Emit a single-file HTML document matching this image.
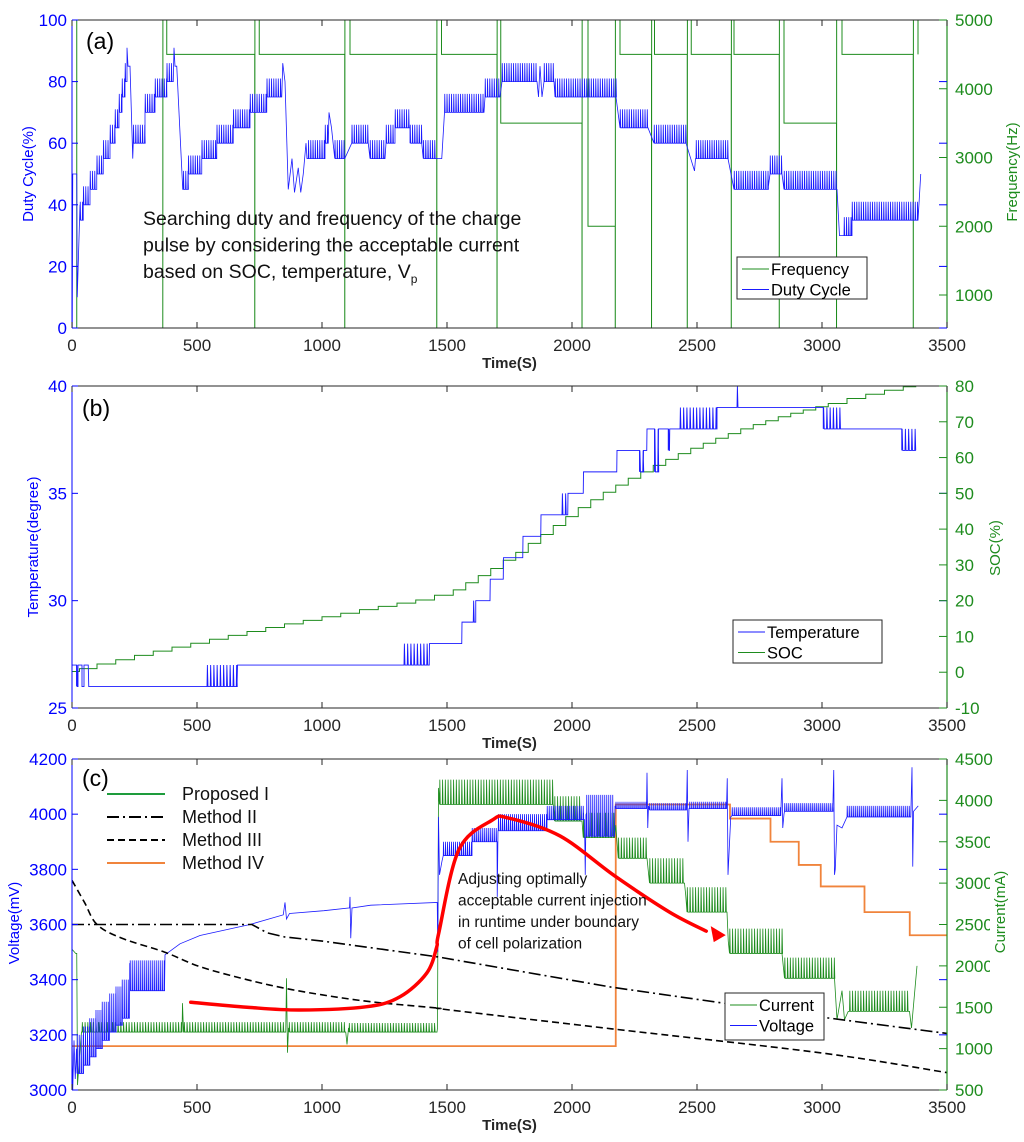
<!DOCTYPE html>
<html><head><meta charset="utf-8"><style>
body{margin:0;background:#fff}
svg{display:block;font-family:"Liberation Sans",Arial,sans-serif}
</style></head><body>
<svg id="fig" width="1024" height="1142" viewBox="0 0 1024 1142" xmlns="http://www.w3.org/2000/svg">
<defs>
<clipPath id="clipA"><rect x="72" y="20" width="875" height="308"/></clipPath>
<clipPath id="clipB"><rect x="72" y="386" width="875" height="322"/></clipPath>
<clipPath id="clipC"><rect x="72" y="759" width="875" height="331"/></clipPath>
</defs>
<g id="layer"></g>
</svg>
<script>
// ---------- Panel (a) data ----------
const dutyKnotT = [0,1,3,19,21,32,220,224,232,243,408,412,419,443,843,852,865,880,890,905,915,925,936,940,1028,1038,1479,1866,1872,1880,2490,2494,3060,3070,3395];
const dutyKnotV = [100,0,50,50,10,40,91,85,85,55,91,85,85,45,86,80,45,55,44,52,44,50,60,55,70,65,55,75,85,75,51,55,45,30,50];
const dutyBandT0 = [32,45,72,99,125,152,172,188,200,212,245,292,332,379,445,465,519,579,645,712,779,945,1012,1051,1119,1192,1256,1292,1352,1405,1490,1652,1720,1888,1932,2192,2328,2496,2648,2792,2848,3088,3120];
const dutyBandT1 = [45,72,99,125,152,172,188,200,212,220,292,332,379,405,465,519,579,645,712,779,839,1012,1025,1091,1185,1252,1292,1352,1399,1452,1648,1712,1860,1928,2176,2304,2456,2624,2784,2840,3056,3120,3384];
const dutyBandLo = [35,40,45,50,55,60,65,70,75,80,60,70,75,80,45,50,55,60,65,70,75,55,60,55,60,55,60,65,60,55,70,75,80,80,75,65,60,55,45,50,45,30,35];
const dutyBandHi = [41,46,51,56,61,66,71,76,81,86,66,76,81,86,51,56,61,66,71,76,81,61,66,61,66,61,66,71,66,61,76,81,86,86,81,71,66,61,51,56,51,36,41];
const freqT = [19,19,363,363,364,379,379,731,731,732,749,749,1091,1091,1092,1112,1112,1459,1459,1460,1478,1478,1700,1700,1701,1715,1715,2040,2040,2041,2064,2064,2173,2173,2174,2192,2192,2318,2318,2319,2330,2330,2461,2461,2462,2477,2477,2637,2637,2638,2648,2648,2829,2829,2830,2848,2848,3058,3058,3059,3080,3080,3365,3365,3366,3384,3384];
const freqV = [9000,500,500,-1000,9000,9000,4500,4500,-1000,9000,9000,4500,4500,-1000,9000,9000,4500,4500,-1000,9000,9000,4500,4500,-1000,9000,9000,3500,3500,-1000,9000,9000,2000,2000,-1000,9000,9000,4500,4500,-1000,9000,9000,4500,4500,-1000,9000,9000,4500,4500,-1000,9000,9000,4500,4500,-1000,9000,9000,3500,3500,-1000,9000,9000,4500,4500,-1000,9000,9000,4500];

// ---------- Panel (b) data ----------
const tempT0 = [0,18,24,40,48,67,540,662,1328,1430,1560,1605,1615,1673,1726,1804,1876,1960,1984,2046,2180,2270,2286,2300,2330,2346,2385,2391,2432,2580,2660,2668,3005,3072,3319];
const tempT1 = [18,24,40,48,65,540,660,1328,1429,1559,1605,1615,1672,1725,1803,1875,1960,1983,2045,2179,2270,2285,2299,2330,2345,2385,2390,2432,2580,2660,2668,3005,3072,3319,3376];
const tempLo = [27,26,27,26,27,26,26,27,27,28,29,29,30,31,32,33,34,34,35,36,37,36,37,38,36,38,37,38,38,39,39,39,38,38,37];
const tempHi = [27,27,27,26,27,26,27,27,28,28,29,30,30,31,32,33,34,35,35,36,37,37,37,38,38,38,38,38,39,39,40,39,39,38,38];
const socT = [0,30,100,175,250,325,400,475,550,625,700,775,850,925,1000,1075,1150,1225,1300,1375,1450,1525,1575,1625,1675,1725,1775,1825,1875,1925,1975,2025,2075,2125,2175,2225,2275,2325,2375,2425,2475,2525,2575,2625,2675,2725,2775,2825,2875,2925,2975,3025,3100,3175,3250,3325,3375];
const socV = [0.2,1,2.3,3.5,4.7,5.9,7,8.1,9.2,10.3,11.4,12.5,13.5,14.5,15.5,16.5,17.5,18.4,19.3,20.2,21.5,23,25,27,29,31.3,33.5,36,38.5,41,43.5,46,48.2,50.3,52.3,54.2,56,57.8,59.5,61.1,62.6,64,65.4,66.7,68,69.2,70.3,71.4,72.4,73.3,74.2,75.1,76.5,77.7,78.8,79.8,80];

// ---------- Panel (c) data ----------
const voltKnotT = [0,3,8,13,18,231,372,432,512,712,845,852,858,870,1008,1110,1112,1115,1120,1195,1461,1463,1466,1470,1480,1701,1704,2053,2056,2172,2300,2303,2306,2461,2464,2468,2621,2624,2635,2840,2843,2848,3047,3050,3053,3060,3080,3360,3363,3366,3385];
const voltKnotV = [3200,3000,3180,3040,3150,3460,3490,3530,3560,3600,3635,3680,3620,3640,3650,3660,3700,3550,3660,3670,3680,3500,3990,3780,3830,3700,3940,3780,4000,4030,4150,3950,4030,4160,3900,4020,4130,3780,3990,4130,3950,4000,4160,3780,3800,3960,3950,4170,3810,4010,4030];
const voltBandT0 = [20,45,70,95,120,150,175,200,232,1485,1600,1705,1900,2058,2175,2310,2470,2640,2850,3100];
const voltBandT1 = [45,70,95,120,150,175,200,230,370,1600,1700,1900,2050,2170,2298,2458,2618,2835,3043,3355];
const voltBandHi = [3200,3230,3260,3290,3320,3350,3375,3400,3470,3900,3950,4000,4030,4070,4045,4040,4045,4025,4040,4030];
const voltBandLo = [3060,3090,3120,3150,3180,3210,3235,3260,3360,3850,3900,3940,3980,3920,4020,4015,4020,3995,4010,3990];
const curKnotT = [0,15,19,22,30,38,442,446,858,862,866,1100,1106,1462,1466,2175,2305,2455,2625,3060,3080,3090,3105,3358,3380];
const curKnotV = [2200,2150,2150,560,900,1200,1550,1200,1850,950,1250,1050,1250,1250,4150,3700,3150,2850,2300,1350,1700,1350,1450,1250,2000];
const curBandT0 = [40,448,868,1108,1470,1930,2045,2185,2310,2460,2630,2850,3110];
const curBandT1 = [440,855,1095,1460,1925,2040,2170,2300,2450,2620,2840,3050,3350];
const curBandLo = [1200,1200,1200,1200,3950,3750,3550,3300,3000,2650,2150,1850,1450];
const curBandHi = [1320,1320,1320,1310,4250,4050,3850,3550,3300,2950,2450,2100,1700];
const m2T = [0,720,780,850,1000,1460,2157,3000,3500];
const m2V = [3600,3600,3570,3555,3540,3483,3373,3264,3205];
const m3T = [0,50,100,200,370,512,700,845,1000,1195,1461,1512,2157,3000,3500];
const m3V = [3760,3680,3600,3550,3500,3447,3400,3370,3345,3320,3297,3290,3222,3134,3063];
const m4T = [0,2175,2632,2794,2907,2995,3170,3351];
const m4I = [1030,3950,3780,3500,3220,2960,2650,2370];
const arrowT = [475,700,912,1179,1312,1419,1459,1467,1547,1680,1746,1952,2171,2390,2537,2603];
const arrowV = [3318,3300,3290,3302,3338,3424,3519,3569,3870,3978,3986,3921,3776,3645,3576,3565];

const xTicks = [0,500,1000,1500,2000,2500,3000,3500];

// ---------- helpers ----------
const NS = 'http://www.w3.org/2000/svg';
const layer = document.getElementById('layer');
const X0 = 72, X1 = 947, TMAX = 3500;
const xS = t => X0 + t * (X1 - X0) / TMAX;
function lin(d0, d1, r0, r1){ return v => r0 + (v - d0) * (r1 - r0) / (d1 - d0); }
function el(tag, attrs, parent){
  const e = document.createElementNS(NS, tag);
  for (const k in attrs) e.setAttribute(k, attrs[k]);
  (parent || layer).appendChild(e);
  return e;
}
function txt(s, x, y, size, fill, anchor, extra, parent){
  const e = el('text', Object.assign({x:x, y:y, 'font-size':size, fill:fill, 'text-anchor':anchor||'start'}, extra||{}), parent);
  e.textContent = s;
  return e;
}
function pathFrom(pts, ys){ return pts.map((p,i)=>(i?'L':'M')+xS(p[0]).toFixed(2)+' '+ys(p[1]).toFixed(2)).join(''); }
function smoothFrom(pts, ys){
  const P = pts.map(p=>[xS(p[0]), ys(p[1])]);
  let d = 'M'+P[0][0].toFixed(2)+' '+P[0][1].toFixed(2);
  for (let i = 0; i < P.length-1; i++){
    const p0 = P[Math.max(0,i-1)], p1 = P[i], p2 = P[i+1], p3 = P[Math.min(P.length-1,i+2)];
    const c1 = [p1[0]+(p2[0]-p0[0])/6, p1[1]+(p2[1]-p0[1])/6];
    const c2 = [p2[0]-(p3[0]-p1[0])/6, p2[1]-(p3[1]-p1[1])/6];
    d += 'C'+c1[0].toFixed(2)+' '+c1[1].toFixed(2)+' '+c2[0].toFixed(2)+' '+c2[1].toFixed(2)+' '+p2[0].toFixed(2)+' '+p2[1].toFixed(2);
  }
  return d;
}
function saw(t0, t1, lo, hi, P, out){
  for (let t = t0; t < t1; t += P){ out.push([t, lo]); out.push([t + P*0.12, hi]); out.push([t + P*0.3, lo]); }
  out.push([t1, lo]);
}
function mergedPoints(kT, kV, bT0, bT1, bLo, bHi, P){
  const items = [];
  kT.forEach((t,i)=>items.push({t:t, k:true, v:kV[i]}));
  bT0.forEach((t,i)=>items.push({t:t, k:false, i:i}));
  items.sort((a,b)=>a.t-b.t);
  const pts = [];
  items.forEach(it=>{
    if (it.k) pts.push([it.t, it.v]);
    else saw(bT0[it.i], bT1[it.i], bLo[it.i], bHi[it.i], P, pts);
  });
  return pts;
}
function frame(name, y0, y1, leftColor, rightColor, leftTicks, lY, rightTicks, rY){
  const g = el('g', {});
  
  
  el('line', {x1:X0, y1:y0, x2:X1, y2:y0, stroke:'#262626', 'stroke-width':1}, g);
  el('line', {x1:X0, y1:y1, x2:X1, y2:y1, stroke:'#262626', 'stroke-width':1}, g);
  el('line', {x1:X0, y1:y0, x2:X0, y2:y1, stroke:leftColor, 'stroke-width':1}, g);
  el('line', {x1:X1, y1:y0, x2:X1, y2:y1, stroke:rightColor, 'stroke-width':1.2}, g);
  xTicks.forEach(t=>{
    const x = xS(t);
    el('line', {x1:x, y1:y1, x2:x, y2:y1-6, stroke:'#262626'}, g);
    el('line', {x1:x, y1:y0, x2:x, y2:y0+6, stroke:'#262626'}, g);
    const lab = txt(String(t), x, y1+23, 17, '#262626', 'middle', {}, g);
    
    
  });
  leftTicks.forEach(v=>{
    const y = lY(v);
    el('line', {x1:X0, y1:y, x2:X0+6, y2:y, stroke:leftColor}, g);
    el('line', {x1:X1, y1:y, x2:X1-8, y2:y, stroke:leftColor}, g);
    const lab = txt(String(v), X0-5, y+6, 17, leftColor, 'end', {}, g);
    
    
  });
  rightTicks.forEach(v=>{
    const y = rY(v);
    el('line', {x1:X1, y1:y, x2:X1-8, y2:y, stroke:rightColor}, g);
    const lab = txt(String(v), X1+8, y+6, 17, rightColor, 'start', {}, g);
    
    
  });
  const tl = txt('Time(S)', (X0+X1)/2, y1+40, 15, '#262626', 'middle', {'font-weight':'bold'}, g);
  
  
}
function vlabel(s, x, y, size, color, name){
  const e = txt(s, x, y, size, color, 'middle', {transform:'rotate(-90 '+x+' '+y+')'});
  
  
}
function legend(name, x, y, w, h, entries){
  const g = el('g', {});
  
  
  el('rect', {x:x, y:y, width:w, height:h, fill:'#fff', stroke:'#262626', 'stroke-width':1}, g);
  entries.forEach((e,i)=>{
    const yy = y + 12 + i*20.5;
    el('line', {x1:x+5, y1:yy, x2:x+32, y2:yy, stroke:e[1], 'stroke-width':1}, g);
    const t = txt(e[0], x+34, yy+6, 16.5, '#000', 'start', {}, g);
    
    
  });
}

// ---------- Panel (a) ----------
const aDuty = lin(0, 100, 328, 20);
const aFreq = lin(520, 5000, 328, 20);
const gA = el('g', {'clip-path':'url(#clipA)'});


const freqPts = freqT.map((t,i)=>[t, freqV[i]]);
const fp = el('path', {d:pathFrom(freqPts, aFreq), fill:'none', stroke:'#1e8c1e', 'stroke-width':1}, gA);


const dutyPts = mergedPoints(dutyKnotT, dutyKnotV, dutyBandT0, dutyBandT1, dutyBandLo, dutyBandHi, 9);
const dp = el('path', {d:pathFrom(dutyPts, aDuty), fill:'none', stroke:'#1a1aff', 'stroke-width':0.8}, gA);


frame('panel-a', 20, 328, '#0000ff', '#1e8c1e', [0,20,40,60,80,100], aDuty, [1000,2000,3000,4000,5000], aFreq);
vlabel('Duty Cycle(%)', 33, 174, 15, '#0000ff', 'duty-cycle-axis-title');
vlabel('Frequency(Hz)', 1017, 172, 15, '#1e8c1e', 'frequency-axis-title');
let t = txt('(a)', 86, 49, 23, '#000');  
const ann = ['Searching duty and frequency of the charge','pulse by considering the acceptable current'];
ann.forEach((s,i)=>{ const e = txt(s, 143, 225 + i*26.5, 19.5, '#111');   });
const a3 = txt('based on SOC, temperature, V', 143, 278, 19.5, '#111');


const sub = el('tspan', {'font-size':12, dy:5}, a3); sub.textContent = 'p';
legend('panel-a-legend', 737, 257, 130, 42, [['Frequency','#1e8c1e'],['Duty Cycle','#1a1aff']]);

// ---------- Panel (b) ----------
const bTemp = lin(25, 40, 708, 386);
const bSoc = lin(-10, 80, 708, 386);
const gB = el('g', {'clip-path':'url(#clipB)'});


const socPts = [];
socT.forEach((tt,i)=>{ if (i) socPts.push([tt, socV[i-1]]); socPts.push([tt, socV[i]]); });
socPts.push([TMAX, socV[socV.length-1]]);
const sp = el('path', {d:pathFrom(socPts, bSoc), fill:'none', stroke:'#1e8c1e', 'stroke-width':1}, gB);


const tempPts = [];
tempT0.forEach((t0,i)=>{
  if (tempLo[i] === tempHi[i]) { tempPts.push([t0, tempLo[i]]); tempPts.push([tempT1[i], tempLo[i]]); }
  else saw(t0, tempT1[i], tempLo[i], tempHi[i], 13, tempPts);
});
const tp = el('path', {d:pathFrom(tempPts, bTemp), fill:'none', stroke:'#1a1aff', 'stroke-width':0.9}, gB);


frame('panel-b', 386, 708, '#0000ff', '#1e8c1e', [25,30,35,40], bTemp, [-10,0,10,20,30,40,50,60,70,80], bSoc);
vlabel('Temperature(degree)', 38, 547, 15, '#0000ff', 'temperature-axis-title');
vlabel('SOC(%)', 1000, 548, 15, '#1e8c1e', 'soc-axis-title');
t = txt('(b)', 82, 416, 23, '#000');  
legend('panel-b-legend', 733, 620, 149, 43, [['Temperature','#1a1aff'],['SOC','#1e8c1e']]);

// ---------- Panel (c) ----------
const cV = lin(3000, 4200, 1090, 759);
const cI = lin(500, 4500, 1090, 759);
const gC = el('g', {'clip-path':'url(#clipC)'});


const m4Pts = [];
m4T.forEach((tt,i)=>{ if (i) m4Pts.push([tt, m4I[i-1]]); m4Pts.push([tt, m4I[i]]); });
m4Pts.push([TMAX, m4I[m4I.length-1]]);
const p4 = el('path', {d:pathFrom(m4Pts, cI), fill:'none', stroke:'#f0843c', 'stroke-width':1.8}, gC);


const curPts = mergedPoints(curKnotT, curKnotV, curBandT0, curBandT1, curBandLo, curBandHi, 11);
const pc = el('path', {d:pathFrom(curPts, cI), fill:'none', stroke:'#1e8c1e', 'stroke-width':0.8}, gC);


const voltPts = mergedPoints(voltKnotT, voltKnotV, voltBandT0, voltBandT1, voltBandLo, voltBandHi, 8);
const pv = el('path', {d:pathFrom(voltPts, cV), fill:'none', stroke:'#1a1aff', 'stroke-width':0.8}, gC);


const p2 = el('path', {d:pathFrom(m2T.map((tt,i)=>[tt,m2V[i]]), cV), fill:'none', stroke:'#000', 'stroke-width':1.6, 'stroke-dasharray':'12 4 2 4'}, gC);


const p3 = el('path', {d:smoothFrom(m3T.map((tt,i)=>[tt,m3V[i]]), cV), fill:'none', stroke:'#000', 'stroke-width':1.6, 'stroke-dasharray':'7 4'}, gC);


const arPts = arrowT.map((tt,i)=>[tt, arrowV[i]]);
const ar = el('path', {d:smoothFrom(arPts.slice(0,-1), cV), fill:'none', stroke:'#ff0000', 'stroke-width':3.5, 'stroke-linejoin':'round', 'stroke-linecap':'round'}, gC);


const tipX = xS(arrowT[arrowT.length-1]), tipY = cV(arrowV[arrowV.length-1]);
const ah = el('polygon', {points:`${tipX+3},${tipY+1} ${tipX-12},${tipY-8} ${tipX-9},${tipY+8}`, fill:'#ff0000'}, gC);


frame('panel-c', 759, 1090, '#0000ff', '#1e8c1e', [3000,3200,3400,3600,3800,4000,4200], cV, [500,1000,1500,2000,2500,3000,3500,4000,4500], cI);
const cover = el('rect', {x:990, y:832, width:30, height:145, fill:'#fff'});


vlabel('Voltage(mV)', 19, 923, 15, '#0000ff', 'voltage-axis-title');
vlabel('Current(mA)', 1005, 912, 15, '#1e8c1e', 'current-axis-title');
t = txt('(c)', 82, 786, 23, '#000');  
const cAnn = ['Adjusting optimally','acceptable current injection','in runtime under boundary','of cell polarization'];
cAnn.forEach((s,i)=>{ const e = txt(s, 458, 884 + i*21.5, 15.5, '#111');   });
const mg = el('g', {});


const mEntries = [['Proposed I','#1e9c3c','none'],['Method II','#000','12 4 2 4'],['Method III','#000','7 4'],['Method IV','#f0843c','none']];
mEntries.forEach((e,i)=>{
  const y = 794 + i*23;
  el('line', {x1:107, y1:y, x2:165, y2:y, stroke:e[1], 'stroke-width':2, 'stroke-dasharray':e[2]}, mg);
  const lt = txt(e[0], 182, y+6, 18, '#111', 'start', {}, mg);
  
  
});
legend('panel-c-legend', 725, 993, 99, 47, [['Current','#1e8c1e'],['Voltage','#1a1aff']]);
</script>
</body></html>
